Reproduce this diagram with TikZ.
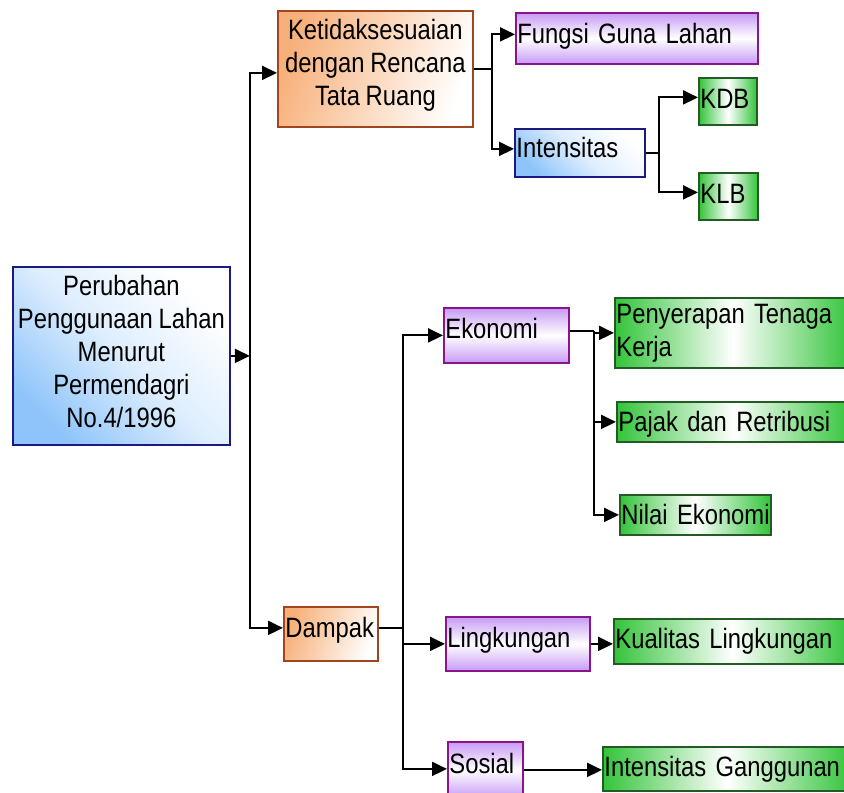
\documentclass[tikz,border=0pt]{standalone}
\usepackage{fontspec}
\setmainfont{Liberation Sans}[FakeStretch=0.85,WordSpace=0.85]
\usetikzlibrary{arrows.meta}
\definecolor{navyB}{HTML}{1A1A80}
\definecolor{lblue}{HTML}{8EC4FA}
\definecolor{orgB}{HTML}{A0461E}
\definecolor{lorg}{HTML}{F7B07A}
\definecolor{purB}{HTML}{8A148A}
\definecolor{lpur}{HTML}{C79AF5}
\definecolor{grnB}{HTML}{245A24}
\definecolor{grn}{HTML}{33C43A}
\newcommand\liftlines[2]{\raisebox{#1}[\height][\depth]{\begin{tabular}{@{}c@{}}#2\end{tabular}}}
\tikzset{
  bx/.style={line width=1.8pt, inner xsep=1.5pt, inner ysep=0pt, anchor=north west,
    font=\fontsize{28}{33}\selectfont},
  one/.style={text height=20pt, text depth=#1},
  bluebox/.style={bx, draw=navyB, bottom color=lblue, top color=white, middle color=white!70!lblue, shading angle=-45},
  orgbox/.style={bx, draw=orgB, left color=lorg, right color=white, shading angle=70},
  purbox/.style={bx, draw=purB, top color=lpur, bottom color=lpur, middle color=white},
  grnbox/.style={bx, draw=grnB, left color=grn, right color=grn, middle color=white},
  arr/.style={line width=2pt, -{Triangle[length=15pt,width=14pt]}},
  ln/.style={line width=2pt}
}
\begin{document}
\begin{tikzpicture}[x=1pt,y=-1pt]
\useasboundingbox (0,0) rectangle (844,793);
% nodes
\node[bluebox, minimum height=178pt, minimum width=217pt] (P) at (12,266)
  {\liftlines{1pt}{Perubahan\\Penggunaan Lahan\\Menurut\\Permendagri\\No.4/1996}};
\node[orgbox, minimum height=116pt, minimum width=195pt] (K) at (277,10)
  {\liftlines{3pt}{Ketidaksesuaian\\dengan Rencana\\Tata Ruang}};
\node[purbox, one=10pt, minimum height=51pt, text width=239pt, align=left] (F) at (515,12) {Fungsi Guna Lahan};
\node[bluebox, one=10pt, minimum height=48pt, text width=127pt, align=left] (I) at (514,128) {Intensitas};
\node[grnbox, one=6pt, minimum height=47pt, text width=55pt, align=left] (KDB) at (698,77) {KDB};
\node[grnbox, one=6pt, minimum height=47pt, text width=56pt, align=left] (KLB) at (698,172) {KLB};
\node[orgbox, one=13pt, minimum height=54pt, text width=91pt, align=left] (D) at (283,606) {Dampak};
\node[purbox, one=13pt, minimum height=55pt, text width=122pt, align=left] (E) at (443,307) {Ekonomi};
\node[purbox, one=13pt, minimum height=54pt, text width=141pt, align=left] (L) at (445,616) {Lingkungan};
\node[purbox, one=13pt, minimum height=56pt, text width=72pt, align=left] (S) at (447,741) {Sosial};
\node[grnbox, minimum height=70pt, text width=233pt, align=left] (PT) at (614,297)
  {Penyerapan Tenaga\\Kerja};
\node[grnbox, one=1pt, minimum height=40pt, text width=231pt, align=left] (PR) at (616,401) {Pajak dan Retribusi};
\node[grnbox, one=1pt, minimum height=40pt, text width=148pt, align=left] (NE) at (619,494) {\mbox{Nilai Ekonomi}};
\node[grnbox, one=6pt, minimum height=45pt, text width=234pt, align=left] (KL) at (613,618) {Kualitas Lingkungan};
\node[grnbox, one=4pt, minimum height=44pt, text width=245pt, align=left] (IG) at (602,746) {Intensitas Ganggunan};
% connectors
\draw[arr] (P.east) -- ++(19,0) coordinate (t1);
\draw[arr] (t1) |- ([yshift=-4pt]K.west);
\draw[arr] (t1) |- ([yshift=6pt]D.west);
\draw[ln] (K.east) -- ++(18,0) coordinate (t2);
\draw[arr] (t2) |- ([yshift=4pt]F.west);
\draw[arr] (t2) |- ([yshift=4pt]I.west);
\draw[ln] (I.east) -- ++(13,0) coordinate (t3);
\draw[arr] (t3) |- ([yshift=4pt]KDB.west);
\draw[arr] (t3) |- ([yshift=4pt]KLB.west);
\draw[ln] ([yshift=6pt]D.east) -- ++(24,0) coordinate (t4);
\draw[arr] (t4) |- (E.west);
\draw[arr] (t4) |- (L.west);
\draw[arr] (t4) |- ([yshift=1pt]S.west);
\draw[ln] ([yshift=4pt]E.east) -- ++(24,0) coordinate (t5);
\draw[arr] (t5) |- (PT.west);
\draw[arr] (t5) |- (PR.west);
\draw[arr] (t5) |- (NE.west);
\draw[arr] (L.east) -- (L.east -| KL.west);
\draw[arr] (S.east) -- (S.east -| IG.west);
\end{tikzpicture}
\end{document}
